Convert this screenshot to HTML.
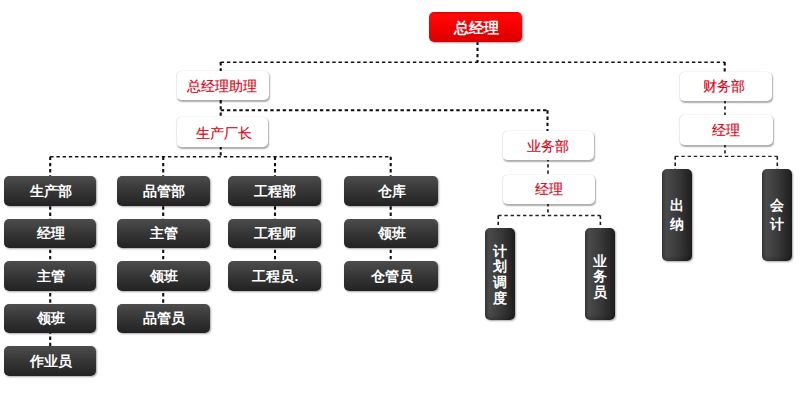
<!DOCTYPE html>
<html><head><meta charset="utf-8"><style>
html,body{margin:0;padding:0;background:#fff;}
body{width:800px;height:408px;position:relative;overflow:hidden;font-family:"Liberation Sans",sans-serif;}
svg{position:absolute;left:0;top:0;}
.b{position:absolute;box-sizing:border-box;display:flex;align-items:center;justify-content:center;white-space:nowrap;}
.red{background:linear-gradient(#e00000 0,#ff0808 10%,#f40000 50%,#d80000 100%);border-radius:5px;color:#fff;font-weight:bold;font-size:15px;box-shadow:1px 1px 2px rgba(70,100,100,.55);}
.wh{background:#fff;border-radius:5px;color:#dc0014;font-size:13.7px;box-shadow:1px 1.5px 1.5px rgba(0,0,0,.32), inset 1px 0 0 rgba(0,0,0,.08), 0 -0.5px 0.5px rgba(0,0,0,.06);}
.dk{background:linear-gradient(#4d4d4d,#383838 45%,#222);border-radius:5px;color:#fff;font-weight:bold;font-size:13.7px;box-shadow:1px 1px 2px rgba(0,0,0,.35);}
.vt{background:linear-gradient(to right,#3a3a3a 0%,#4a4a4a 14%,#383838 55%,#1e1e1e 100%);border-radius:5px;color:#fff;font-weight:bold;font-size:14px;box-shadow:1px 1px 2px rgba(0,0,0,.35);flex-direction:column;box-shadow:1px 1px 2px rgba(0,0,0,.35), inset 0 -3px 3px rgba(0,0,0,.18);}
.vt span{display:block;text-align:center;}
.b>span{display:block;}
.wh>span{-webkit-text-stroke:0.15px #dc0014;}
.dk>span{transform:translate(0.8px,0.8px);}
</style></head><body>
<svg width="800" height="408" viewBox="0 0 800 408"><g stroke="#111" fill="none" stroke-dasharray="3.4 2.8"><line x1="477.5" y1="41.5" x2="477.5" y2="62" stroke-width="2.1" stroke="#111"/><line x1="220.7" y1="62.2" x2="724.7" y2="62.2" stroke-width="1.35" stroke="#111"/><line x1="220.7" y1="62" x2="220.7" y2="72" stroke-width="2.1" stroke="#111"/><line x1="724.7" y1="62" x2="724.7" y2="73" stroke-width="2.1" stroke="#111"/><line x1="220.7" y1="100" x2="220.7" y2="118" stroke-width="2.1" stroke="#111"/><line x1="220.7" y1="110.2" x2="547.5" y2="110.2" stroke-width="2.1" stroke="#0d0d0d"/><line x1="547.5" y1="110.3" x2="547.5" y2="132" stroke-width="2.1" stroke="#111"/><line x1="220.7" y1="146" x2="220.7" y2="156.7" stroke-width="2.1" stroke="#111"/><line x1="50.2" y1="156.7" x2="390.7" y2="156.7" stroke-width="1.6" stroke="#151515"/><line x1="50.2" y1="156.7" x2="50.2" y2="350" stroke-width="2.1" stroke="#111"/><line x1="163.2" y1="156.7" x2="163.2" y2="310" stroke-width="2.1" stroke="#111"/><line x1="275" y1="156.7" x2="275" y2="265" stroke-width="2.1" stroke="#111"/><line x1="390.7" y1="156.7" x2="390.7" y2="265" stroke-width="2.1" stroke="#111"/><line x1="548" y1="158" x2="548" y2="176" stroke-width="1.6" stroke="#1a1a1a"/><line x1="548" y1="203" x2="548" y2="215.5" stroke-width="1.6" stroke="#1a1a1a"/><line x1="498.2" y1="215.5" x2="600.4" y2="215.5" stroke-width="1.35" stroke="#222"/><line x1="498.2" y1="215.5" x2="498.2" y2="229" stroke-width="1.6" stroke="#1a1a1a"/><line x1="600.4" y1="215.5" x2="600.4" y2="229" stroke-width="1.6" stroke="#1a1a1a"/><line x1="725" y1="100" x2="725" y2="116" stroke-width="1.6" stroke="#1a1a1a"/><line x1="725" y1="144" x2="725" y2="156.3" stroke-width="1.6" stroke="#1a1a1a"/><line x1="675.2" y1="156.3" x2="777.3" y2="156.3" stroke-width="1.35" stroke="#222"/><line x1="675.2" y1="156.3" x2="675.2" y2="171" stroke-width="1.6" stroke="#1a1a1a"/><line x1="777.3" y1="156.3" x2="777.3" y2="171" stroke-width="1.6" stroke="#1a1a1a"/></g></svg>
<div class="b red" style="left:429px;top:12.4px;width:92.6px;height:29.4px"><span style="transform:translate(1.3px,1px)">总经理</span></div>
<div class="b wh" style="left:175.5px;top:70.5px;width:93px;height:29.5px"><span style="transform:translate(0px,1.5px)">总经理助理</span></div>
<div class="b wh" style="left:175.5px;top:117.2px;width:92.5px;height:29.5px"><span style="transform:translate(2px,1.8px)">生产厂长</span></div>
<div class="b wh" style="left:501.5px;top:130.7px;width:92.5px;height:29px"><span style="transform:translate(0px,1.5px)">业务部</span></div>
<div class="b wh" style="left:502px;top:174.5px;width:93px;height:29px"><span style="transform:translate(0px,1.2px)">经理</span></div>
<div class="b wh" style="left:678.5px;top:71.5px;width:93px;height:29px"><span style="transform:translate(-0.8px,1.2px)">财务部</span></div>
<div class="b wh" style="left:678.5px;top:115px;width:94px;height:29.5px"><span style="transform:translate(0px,0.6px)">经理</span></div>
<div class="b dk" style="left:4px;top:176px;width:92.3px;height:29.5px"><span>生产部</span></div>
<div class="b dk" style="left:4px;top:218.7px;width:92.3px;height:29.5px"><span>经理</span></div>
<div class="b dk" style="left:4px;top:261px;width:92.3px;height:29.5px"><span>主管</span></div>
<div class="b dk" style="left:4px;top:303.5px;width:92.3px;height:29.5px"><span>领班</span></div>
<div class="b dk" style="left:4px;top:346px;width:92.3px;height:29.5px"><span>作业员</span></div>
<div class="b dk" style="left:116.7px;top:176px;width:93px;height:29.5px"><span>品管部</span></div>
<div class="b dk" style="left:116.7px;top:218.7px;width:93px;height:29.5px"><span>主管</span></div>
<div class="b dk" style="left:116.7px;top:261px;width:93px;height:29.5px"><span>领班</span></div>
<div class="b dk" style="left:116.7px;top:303.5px;width:93px;height:29.5px"><span>品管员</span></div>
<div class="b dk" style="left:228.3px;top:176px;width:92.5px;height:29.5px"><span>工程部</span></div>
<div class="b dk" style="left:228.3px;top:218.7px;width:92.5px;height:29.5px"><span>工程师</span></div>
<div class="b dk" style="left:228.3px;top:261px;width:92.5px;height:29.5px"><span>工程员.</span></div>
<div class="b dk" style="left:344.1px;top:176px;width:93.5px;height:29.5px"><span>仓库</span></div>
<div class="b dk" style="left:344.1px;top:218.7px;width:93.5px;height:29.5px"><span>领班</span></div>
<div class="b dk" style="left:344.1px;top:261px;width:93.5px;height:29.5px"><span>仓管员</span></div>
<div class="b vt" style="left:485px;top:227.6px;width:30px;height:92.7px"><div style="transform:translateY(1.25px)"><span style="height:15.6px;line-height:15.6px">计</span><span style="height:15.6px;line-height:15.6px">划</span><span style="height:15.6px;line-height:15.6px">调</span><span style="height:15.6px;line-height:15.6px">度</span></div></div>
<div class="b vt" style="left:584.8px;top:227.6px;width:30px;height:92.7px"><div style="transform:translateY(3.0px)"><span style="height:15.6px;line-height:15.6px">业</span><span style="height:15.6px;line-height:15.6px">务</span><span style="height:15.6px;line-height:15.6px">员</span></div></div>
<div class="b vt" style="left:662.3px;top:169.3px;width:30px;height:92.2px"><div style="transform:translateY(-0.5px)"><span style="height:19.6px;line-height:19.6px">出</span><span style="height:19.6px;line-height:19.6px">纳</span></div></div>
<div class="b vt" style="left:761.8px;top:169.3px;width:30px;height:92.2px"><div style="transform:translateY(-0.5px)"><span style="height:19.6px;line-height:19.6px">会</span><span style="height:19.6px;line-height:19.6px">计</span></div></div>
</body></html>
